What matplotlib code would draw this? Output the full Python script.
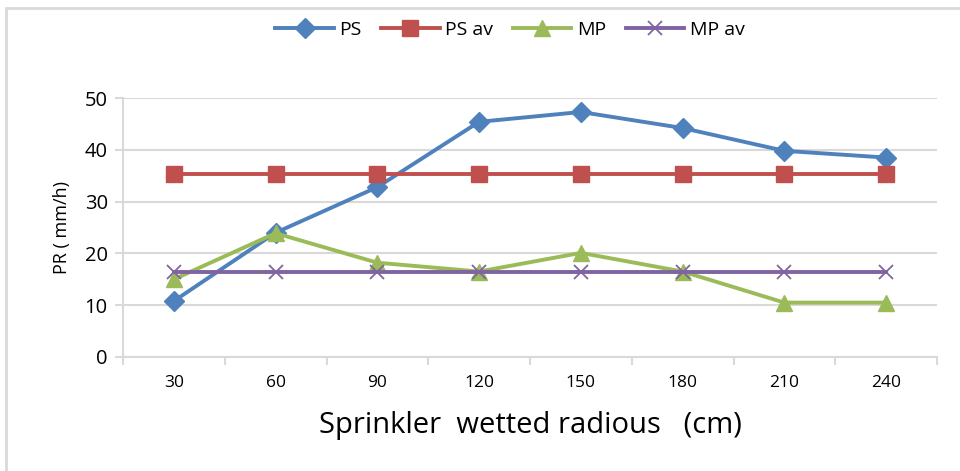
import numpy as np
import matplotlib
matplotlib.use('Agg')
import matplotlib.pyplot as plt
from matplotlib.patches import Rectangle

plt.rcParams['font.family'] = ['Open Sans', 'DejaVu Sans']

radius = ['30', '60', '90', '120', '150', '180', '210', '240']
ps = [10.8, 24.0, 32.8, 45.4, 47.3, 44.2, 39.8, 38.5]
ps_av = [35.3, 35.3, 35.3, 35.3, 35.3, 35.3, 35.3, 35.3]
mp = [15.0, 23.9, 18.2, 16.5, 20.1, 16.5, 10.5, 10.5]
mp_av = [16.4, 16.4, 16.4, 16.4, 16.4, 16.4, 16.4, 16.4]

fig = plt.figure(figsize=(9.6, 4.71), dpi=100)
ax = fig.add_axes([123 / 960, 1 - 357 / 471, (937 - 123) / 960, (357 - 98) / 471])

# chart border like excel
fig.patches.append(Rectangle((6 / 960, -0.05), 1.2, 1 - 8 / 471 + 0.05,
                             transform=fig.transFigure, fill=False,
                             edgecolor='#d9d9d9', linewidth=2))

x = np.arange(len(radius))
ax.plot(x, ps, color='#4F81BD', lw=2.8, marker='D', ms=10, label='PS')
ax.plot(x, ps_av, color='#C0504D', lw=2.8, marker='s', ms=11, label='PS av')
ax.plot(x, mp, color='#9BBB59', lw=2.8, marker='^', ms=12, label='MP')
ax.plot(x, mp_av, color='#8064A2', lw=2.8, marker='x', ms=10, mew=1.3, label='MP av')

ax.set_ylim(0, 50)
ax.set_xlim(-0.5, len(radius) - 0.5)
ax.set_yticks(range(0, 51, 10))
ax.yaxis.grid(True, color='#d9d9d9', lw=1.5)
ax.set_axisbelow(True)

ax.set_xticks(np.arange(-0.5, len(radius), 1))
ax.set_xticklabels([])
ax.set_xticks(x, minor=True)
ax.set_xticklabels(radius, minor=True, fontsize=12.5)
ax.tick_params(axis='x', which='minor', length=0, pad=13)
ax.tick_params(axis='x', which='major', length=6, color='#d9d9d9', width=1.5)
ax.tick_params(axis='y', length=6, color='#d9d9d9', width=1.5, labelsize=14.5, pad=5)

for s in ['top', 'right']:
    ax.spines[s].set_visible(False)
for s in ['left', 'bottom']:
    ax.spines[s].set_color('#d9d9d9')
    ax.spines[s].set_linewidth(1.5)

ax.set_ylabel('PR ( mm/h)', fontsize=13, labelpad=10)
ax.set_xlabel('Sprinkler  wetted radious   (cm)', fontsize=21, labelpad=14)

fig.legend(loc='center', bbox_to_anchor=(510 / 960, 1 - 30 / 471), ncol=4,
           frameon=False, fontsize=14, handlelength=3.0, columnspacing=1.0,
           handletextpad=0.3)

plt.savefig('out.png', dpi=100)
